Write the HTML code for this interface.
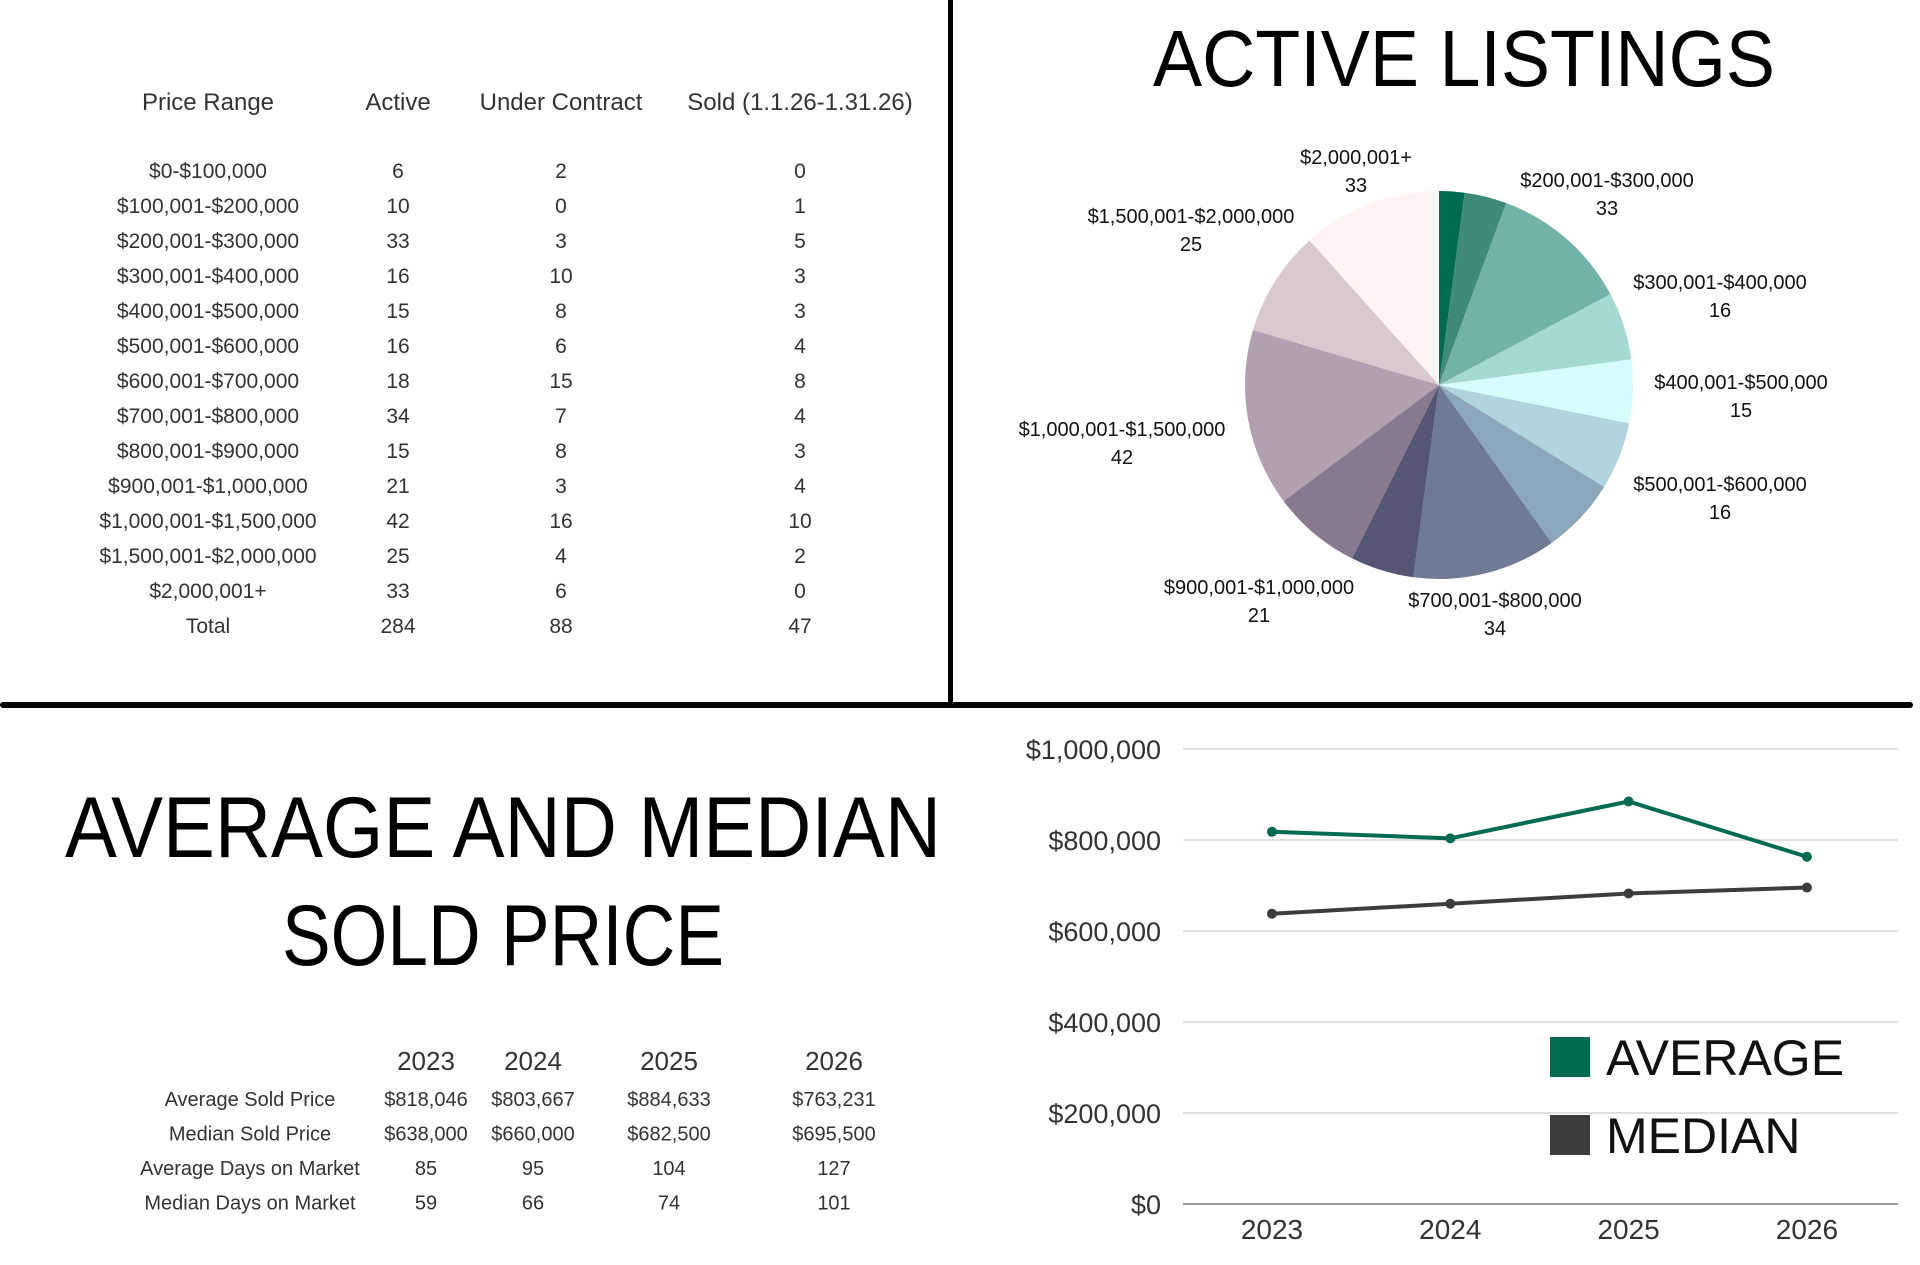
<!DOCTYPE html>
<html><head><meta charset="utf-8">
<style>
html,body{margin:0;padding:0;background:#fff;}
svg{display:block;font-family:"Liberation Sans",sans-serif;}
</style></head>
<body>
<svg id="root" width="1920" height="1265" viewBox="0 0 1920 1265">
<rect x="0" y="0" width="1920" height="1265" fill="#fff"/>
<rect x="948" y="0" width="5" height="705" fill="#000"/>
<rect x="0" y="702" width="1913" height="6" rx="3" fill="#000"/>

<g id="listTable" fill="#333" font-size="21" text-anchor="middle"></g>

<text x="1464" y="86" font-size="80" text-anchor="middle" fill="#000" textLength="622" lengthAdjust="spacingAndGlyphs">ACTIVE LISTINGS</text>
<g id="pie"></g>
<g id="pieLabels" font-size="20" text-anchor="middle" fill="#111"></g>

<text x="503" y="857" font-size="86" text-anchor="middle" fill="#000" textLength="876" lengthAdjust="spacingAndGlyphs">AVERAGE AND MEDIAN</text>
<text x="503" y="965" font-size="86" text-anchor="middle" fill="#000" textLength="442" lengthAdjust="spacingAndGlyphs">SOLD PRICE</text>
<g id="soldTable" fill="#333" font-size="20" text-anchor="middle"></g>

<g id="lineChart"></g>
</svg>
<script>
const NS="http://www.w3.org/2000/svg";
function mk(tag,attrs,parent,text){const e=document.createElementNS(NS,tag);for(const k in attrs)e.setAttribute(k,attrs[k]);if(text!==undefined)e.textContent=text;parent.appendChild(e);return e;}

// ---- Listings table data
const priceRanges=["$0-$100,000","$100,001-$200,000","$200,001-$300,000","$300,001-$400,000","$400,001-$500,000","$500,001-$600,000","$600,001-$700,000","$700,001-$800,000","$800,001-$900,000","$900,001-$1,000,000","$1,000,001-$1,500,000","$1,500,001-$2,000,000","$2,000,001+"];
const activeCounts=[6,10,33,16,15,16,18,34,15,21,42,25,33];
const underContract=[2,0,3,10,8,6,15,7,8,3,16,4,6];
const soldCounts=[0,1,5,3,3,4,8,4,3,4,10,2,0];
const tableHeaders=["Price Range","Active","Under Contract","Sold (1.1.26-1.31.26)"];

const lt=document.getElementById('listTable');
const colX=[208,398,561,800];
tableHeaders.forEach((h,i)=>{const t=mk('text',{x:colX[i],y:110,'font-size':24},lt,h);

});
const rows=priceRanges.map((p,i)=>[p,activeCounts[i],underContract[i],soldCounts[i]]);
const sum=a=>a.reduce((s,v)=>s+v,0);
rows.push(["Total",sum(activeCounts),sum(underContract),sum(soldCounts)]);
rows.forEach((r,ri)=>{r.forEach((c,ci)=>{const t=mk('text',{x:colX[ci],y:178+ri*35},lt,c);

});});

// ---- Pie
const pieColors=["#006b4f","#3f8a78","#72b3a7","#a5d9d2","#d5fdfb","#b0d5de","#8ca7bb","#6f7b95","#545673","#877a8e","#b0a1ae","#d8c8cf","#fff3f3"];
const pcx=1439,pcy=385,pr=194;
const pg=document.getElementById('pie');
const tot=sum(activeCounts);
let ang=0;
activeCounts.forEach((v,i)=>{const a0=ang,a1=ang+v/tot*2*Math.PI;ang=a1;
const x0=pcx+pr*Math.sin(a0),y0=pcy-pr*Math.cos(a0),x1=pcx+pr*Math.sin(a1),y1=pcy-pr*Math.cos(a1);
const p=mk('path',{d:`M${pcx},${pcy}L${x0},${y0}A${pr},${pr} 0 ${a1-a0>Math.PI?1:0} 1 ${x1},${y1}Z`,fill:pieColors[i]},pg);

});

const labelIdx=[12,11,2,3,4,5,7,9,10];
const labelPos=[[1356,164],[1191,223],[1607,187],[1720,289],[1741,389],[1720,491],[1495,607],[1259,594],[1122,436]];
const pl=document.getElementById('pieLabels');
labelIdx.forEach((k,j)=>{const [x,y]=labelPos[j];
const t1=mk('text',{x:x,y:y},pl,priceRanges[k]);


const t2=mk('text',{x:x,y:y+28},pl,activeCounts[k]);

});

// ---- Sold stats table
const years=["2023","2024","2025","2026"];
const avgPrice=[818046,803667,884633,763231];
const medPrice=[638000,660000,682500,695500];
const avgDays=[85,95,104,127];
const medDays=[59,66,74,101];
const statLabels=["Average Sold Price","Median Sold Price","Average Days on Market","Median Days on Market"];
const st=document.getElementById('soldTable');
const yx=[426,533,669,834];
const money=v=>'$'+v.toLocaleString('en-US');
years.forEach((y,i)=>{const t=mk('text',{x:yx[i],y:1070,'font-size':26},st,y);

});
const statRows=[avgPrice.map(money),medPrice.map(money),avgDays,medDays];
statRows.forEach((r,ri)=>{const yy=1106+ri*34.5;
const l=mk('text',{x:250,y:yy},st,statLabels[ri]);


r.forEach((v,ci)=>{const t=mk('text',{x:yx[ci],y:yy},st,v);

});});

// ---- Line chart
const yTicks=[0,200000,400000,600000,800000,1000000];
const yTickLabels=["$0","$200,000","$400,000","$600,000","$800,000","$1,000,000"];
const lc=document.getElementById('lineChart');
const plotL=1183,plotR=1898,plotT=749,plotB=1204;
const yS=v=>plotB-(v/1000000)*(plotB-plotT);
const xS=i=>1272+i*178.3;
yTicks.forEach((v,i)=>{const g=mk('line',{x1:plotL,x2:plotR,y1:yS(v),y2:yS(v),stroke:i==0?'#999':'#d6d6d6','stroke-width':i==0?2:1.5},lc);


const t=mk('text',{x:1161,y:yS(v)+10,'font-size':27,'text-anchor':'end',fill:'#333'},lc,yTickLabels[i]);

});
years.forEach((y,i)=>{const t=mk('text',{x:xS(i),y:1239,'font-size':28,'text-anchor':'middle',fill:'#333'},lc,y);

});
function series(vals,color,name){
const pts=vals.map((v,i)=>xS(i)+','+yS(v)).join(' ');
const pl=mk('polyline',{points:pts,fill:'none',stroke:color,'stroke-width':4},lc);


vals.forEach((v,i)=>{const c=mk('circle',{cx:xS(i),cy:yS(v),r:5,fill:color},lc);

});}
series(avgPrice,'#006b4f','average');
series(medPrice,'#3d3d3d','median');
const legend=[["AVERAGE","#006b4f",1037],["MEDIAN","#3d3d3d",1115]];
legend.forEach(([n,c,y])=>{const r=mk('rect',{x:1550,y:y,width:40,height:40,fill:c},lc);


const t=mk('text',{x:1606,y:y+38,'font-size':50,fill:'#111'},lc,n);

});
</script>
</body></html>
